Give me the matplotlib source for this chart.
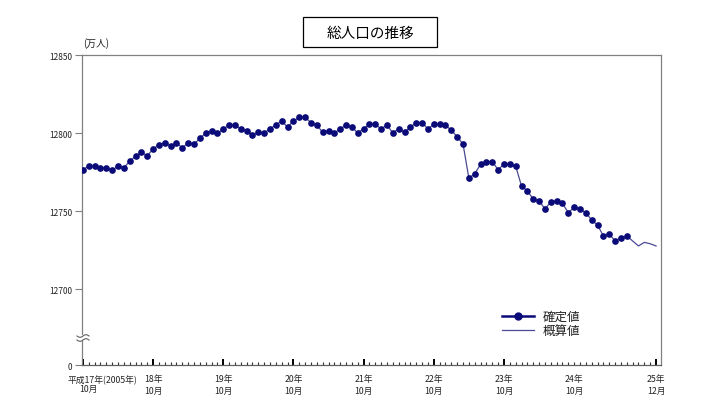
import numpy as np
import matplotlib
matplotlib.use("Agg")
import matplotlib.pyplot as plt
from matplotlib.lines import Line2D
from matplotlib.patches import Rectangle

plt.rcParams['font.family'] = ['Noto Sans CJK JP', 'DejaVu Sans']

# ---- data (万人), monthly from 平成17年10月 ----
confirmed = [
    12776.5, 12778.8, 12778.8, 12777.8, 12777.8, 12776.1, 12778.8, 12777.6, 12781.9, 12785.1,
    12787.6, 12785.4, 12789.7, 12792.5, 12793.8, 12791.5, 12793.8, 12790.4, 12793.8, 12792.8,
    12796.6, 12799.8, 12801.5, 12799.8, 12802.6, 12805.1, 12805.1, 12802.6, 12801.5, 12798.7,
    12800.4, 12800.0, 12802.6, 12805.3, 12807.7, 12803.8, 12807.7, 12810.1, 12810.1, 12806.6,
    12805.1, 12800.4, 12801.5, 12800.0, 12802.6, 12805.1, 12803.8, 12800.0, 12802.8, 12805.6,
    12805.6, 12802.6, 12805.1, 12800.0, 12802.8, 12800.4, 12803.8, 12806.6, 12806.6, 12802.6,
    12805.6, 12805.6, 12805.1, 12801.7, 12797.6, 12792.9, 12771.0, 12773.9, 12779.9, 12781.7,
    12781.6, 12776.5, 12780.1, 12780.1, 12778.8, 12766.0, 12762.8, 12757.7, 12756.6, 12751.3,
    12755.8, 12756.6, 12754.9, 12748.9, 12752.4, 12751.3, 12748.9, 12744.2, 12741.0, 12734.0,
    12735.3, 12730.8, 12732.9, 12734.0,
]
estimate = [12730.8, 12727.6, 12729.9, 12729.0, 12727.6]

series_labels = ["確定値", "概算値"]
title = "総人口の推移"
unit_label = "(万人)"
y_tick_values = [12700, 12750, 12800, 12850]
y_tick_labels = ["12700", "12750", "12800", "12850"]
zero_label = "0"
first_label = ("平成17年(2005年)", "10月")
x_tick_labels = ["18年\n10月", "19年\n10月", "20年\n10月", "21年\n10月",
                 "22年\n10月", "23年\n10月", "24年\n10月", "25年\n12月"]
x_tick_months = [12, 24, 36, 48, 60, 72, 84, 98]

W, H = 728, 410
fig = plt.figure(figsize=(W / 100, H / 100), dpi=100)

L, R, T, B = 82, 661, 56, 366
ax = fig.add_axes([L / W, 1 - B / H, (R - L) / W, (B - T) / H])

x_conf = np.arange(len(confirmed))
x_est = np.arange(len(confirmed) - 1, len(confirmed) + len(estimate))
y_est = [confirmed[-1]] + estimate

ax.plot(x_conf, confirmed, color='#4a4a90', lw=0.9, zorder=3)
ax.plot(x_conf, confirmed, ls='none', marker='o', ms=3.8,
        mfc='#0a0a78', mec='#0a0a78', zorder=4)
ax.plot(x_est, y_est, color='#4a4a98', lw=0.9, zorder=3)

y_bottom = 12700 - 76 / 78 * 50
ax.set_ylim(y_bottom, 12850)
ax.set_xlim(-0.15, 98.85)

ax.set_yticks([y_bottom] + y_tick_values)
ax.set_yticklabels([zero_label] + y_tick_labels)
ax.tick_params(axis='y', direction='out', length=5, width=0.8, color='#808080',
               labelsize=6, labelcolor='#222222', pad=2)

major = [0] + x_tick_months[:-2] + [x_tick_months[-1]]
ax.set_xticks(major)
ax.set_xticklabels([""] * len(major))
ax.set_xticks(np.arange(0, 99), minor=True)
ax.tick_params(axis='x', which='major', direction='in', length=4, width=1.4,
               color='#000000')
ax.tick_params(axis='x', which='minor', direction='in', length=2.5, width=0.8,
               color='#303030')

for s in ax.spines.values():
    s.set_color('#808080')
    s.set_linewidth(0.9)
ax.spines['bottom'].set_color('#606060')

# x labels
trans = ax.get_xaxis_transform()
for m, lab in zip(x_tick_months, x_tick_labels):
    ax.text(m, -0.03, lab, transform=trans, ha='center', va='top',
            fontsize=6.3, color='#222222', linespacing=1.35)
ax.text(0 + 19.5 / 5.85, -0.03, first_label[0], transform=trans, ha='center',
        va='top', fontsize=6.3, color='#222222')
ax.text(0 + 5 / 5.85, -0.062, first_label[1], transform=trans, ha='center',
        va='top', fontsize=6.3, color='#222222')

# unit label
fig.text(83 / W, 1 - 44 / H, unit_label, ha='left', va='center', fontsize=7,
         color='#222222')

# axis break symbol
xs = np.linspace(77, 89, 30)
fig.add_artist(Rectangle(((81) / W, 1 - 342 / H), 3 / W, 6 / H,
                         transform=fig.transFigure, facecolor='white',
                         edgecolor='none', zorder=5))
for yc in (337, 341):
    ys = yc + 1.3 * np.sin((xs - 77) / 12 * 2 * np.pi)
    fig.add_artist(Line2D(xs / W, 1 - ys / H, transform=fig.transFigure,
                          color='#606060', lw=0.8, zorder=6))

# title box
fig.add_artist(Rectangle((303 / W, 1 - 48 / H), 134 / W, 30 / H,
                         transform=fig.transFigure, facecolor='white',
                         edgecolor='#000000', lw=0.9))
fig.text(370 / W, 1 - 33.5 / H, title, ha='center', va='center',
         fontsize=10.5, color='#000000')

# legend
h1 = Line2D([], [], color='#0a0a78', lw=1.8, marker='o', ms=5,
            mfc='#0a0a78', mec='#0a0a78')
h2 = Line2D([], [], color='#4a4a98', lw=0.9)
leg = ax.legend([h1, h2], series_labels, loc='upper left',
                bbox_to_anchor=(496 / W, 1 - 305 / H),
                bbox_transform=fig.transFigure, frameon=False,
                fontsize=9, handlelength=2.5, handletextpad=0.7,
                labelspacing=0.05, borderpad=0)
for t in leg.get_texts():
    t.set_color('#222222')

fig.savefig("out.png", dpi=100)
